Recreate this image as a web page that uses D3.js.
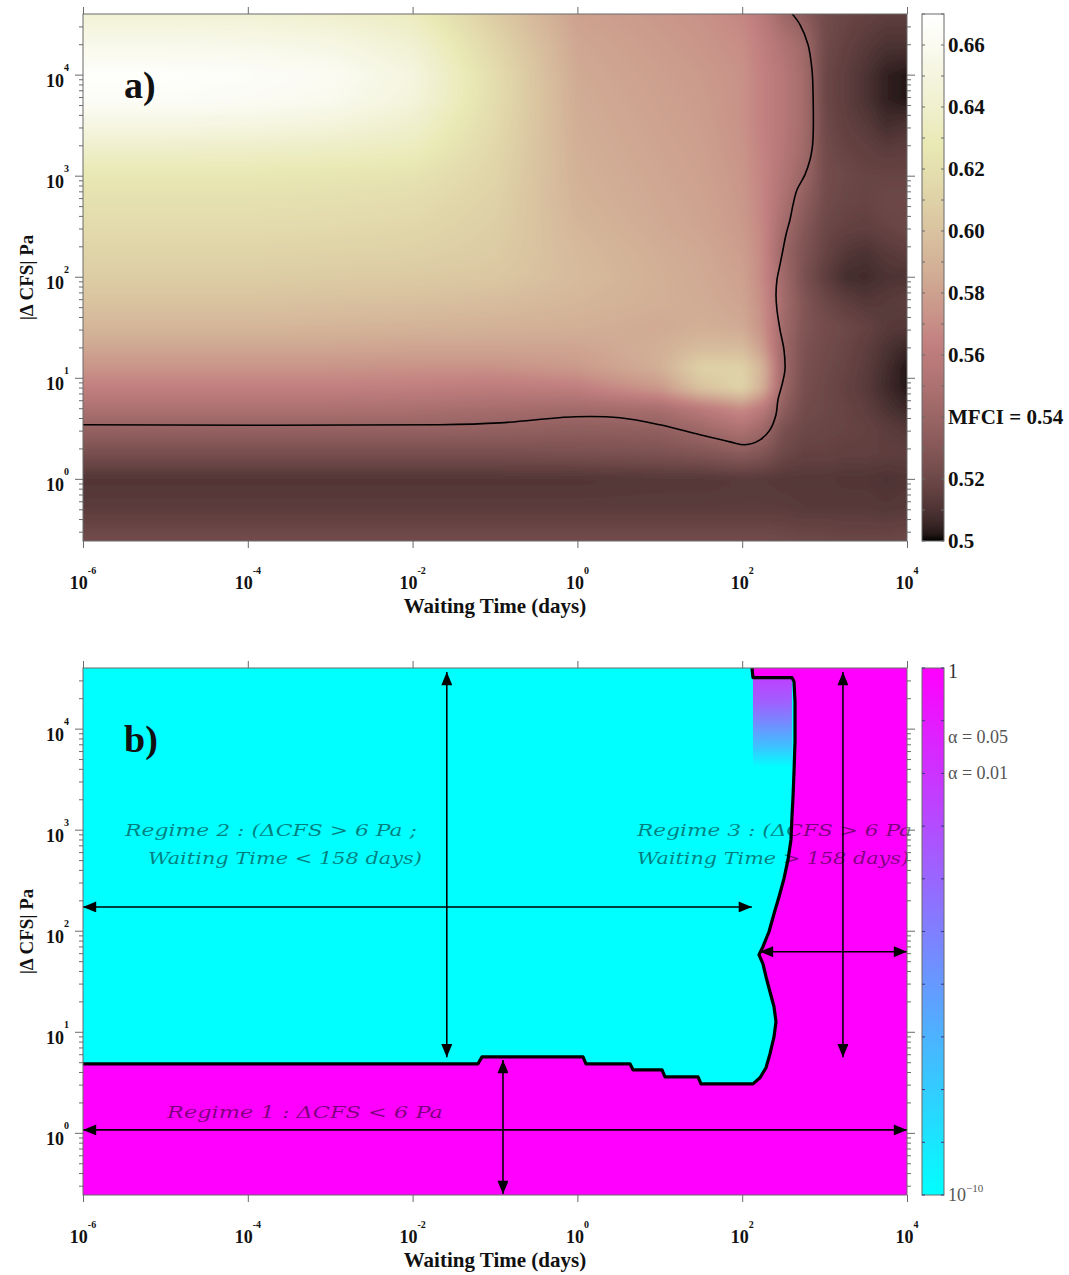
<!DOCTYPE html>
<html>
<head>
<meta charset="utf-8">
<title>MFCI versus waiting time and |ΔCFS|</title>
<script src="https://d3js.org/d3.v7.min.js"></script>
<style>
  html, body { margin: 0; padding: 0; background: #fff; }
  svg { display: block; }
</style>
</head>
<body>
<svg id="fig" width="1069" height="1275"></svg>
<script>
// ---------------------------------------------------------------------------
// Data
// ---------------------------------------------------------------------------

// Nodes of the MFCI surface: log10 waiting time (days) and log10 |ΔCFS| (Pa)
const gridTimeExp = [-6, -5, -4, -3, -2, -1, 0, 1, 1.5, 2, 2.25, 2.5, 2.75, 3, 3.25, 3.5, 3.75, 4];
const gridCfsExp = [-0.6, -0.3, 0, 0.25, 0.5, 0.7, 0.9, 1.1, 1.3, 1.5, 1.75, 2, 2.25, 2.5, 2.75, 3, 3.25, 3.5, 3.75, 4, 4.3, 4.6];

// MFCI values, one row per gridCfsExp entry (lowest stress first)
const mfciRows = [
  [.522,.522,.522,.522,.522,.522,.522,.522,.522,.522,.522,.521,.520,.520,.519,.519,.519,.520],
  [.514,.514,.514,.514,.514,.514,.514,.514,.514,.514,.514,.514,.513,.513,.513,.513,.512,.513],
  [.511,.511,.511,.511,.511,.511,.511,.512,.512,.513,.513,.512,.512,.512,.511,.511,.510,.511],
  [.524,.524,.524,.524,.524,.524,.525,.526,.528,.532,.528,.520,.517,.517,.516,.516,.515,.515],
  [.538,.538,.538,.538,.538,.537,.535,.536,.543,.552,.543,.525,.520,.519,.518,.517,.514,.512],
  [.550,.550,.550,.550,.549,.547,.545,.548,.558,.570,.558,.534,.522,.520,.518,.515,.510,.506],
  [.563,.563,.563,.563,.562,.560,.562,.576,.600,.612,.588,.540,.524,.520,.517,.513,.507,.502],
  [.573,.573,.573,.573,.572,.572,.576,.588,.610,.610,.590,.542,.525,.521,.518,.514,.508,.502],
  [.583,.583,.583,.583,.582,.582,.582,.588,.595,.595,.578,.541,.526,.522,.519,.515,.510,.506],
  [.592,.592,.592,.591,.590,.589,.588,.585,.588,.585,.572,.543,.528,.523,.520,.517,.513,.512],
  [.600,.600,.600,.599,.598,.596,.592,.588,.586,.582,.570,.545,.528,.520,.515,.512,.513,.515],
  [.607,.607,.607,.606,.605,.603,.595,.588,.585,.580,.568,.543,.525,.515,.508,.507,.510,.510],
  [.612,.612,.612,.611,.610,.606,.594,.587,.584,.578,.568,.540,.527,.518,.512,.510,.513,.515],
  [.617,.617,.617,.616,.614,.608,.592,.585,.582,.576,.567,.545,.530,.520,.517,.516,.518,.520],
  [.621,.621,.621,.620,.618,.610,.590,.584,.581,.575,.566,.550,.535,.522,.519,.518,.520,.520],
  [.626,.626,.626,.625,.623,.612,.589,.583,.580,.574,.566,.553,.540,.523,.520,.518,.518,.518],
  [.638,.638,.637,.635,.632,.614,.588,.582,.579,.573,.565,.555,.544,.522,.518,.516,.514,.515],
  [.652,.652,.651,.648,.640,.616,.587,.581,.578,.572,.564,.556,.545,.521,.516,.513,.508,.510],
  [.665,.665,.663,.659,.648,.618,.586,.580,.577,.572,.564,.556,.545,.520,.515,.510,.504,.502],
  [.668,.668,.666,.662,.650,.618,.585,.579,.576,.572,.564,.556,.545,.520,.515,.510,.504,.502],
  [.657,.657,.656,.653,.643,.613,.583,.577,.574,.570,.562,.552,.543,.521,.517,.513,.510,.510],
  [.645,.645,.644,.641,.633,.606,.580,.575,.572,.567,.558,.542,.532,.522,.519,.517,.515,.515]
];

// MFCI = 0.54 iso-line (log10 days, log10 Pa)
const isoTimeExp = [-6, -1.667, -0.939, -0.029, 0.517, 1.002, 1.488, 1.852, 2.034, 2.216, 2.337, 2.410, 2.434,
  2.483, 2.519, 2.507, 2.459, 2.422, 2.410, 2.422, 2.459, 2.495, 2.531, 2.580, 2.617, 2.665, 2.762, 2.823,
  2.847, 2.859, 2.859, 2.847, 2.799, 2.701, 2.604];
const isoCfsExp = [0.535, 0.535, 0.554, 0.614, 0.604, 0.535, 0.436, 0.366, 0.337, 0.386, 0.485, 0.634, 0.782,
  0.931, 1.079, 1.277, 1.475, 1.673, 1.822, 1.970, 2.119, 2.267, 2.416, 2.564, 2.713, 2.861, 3.010, 3.158,
  3.257, 3.356, 3.851, 4.050, 4.297, 4.495, 4.604];

// Boundary of the significant region (p = α), log10 days / log10 Pa
const edgeTimeExp = [-6, -1.206, -1.158, 0.068, 0.104, 0.638, 0.675, 1.027, 1.063, 1.464, 1.500, 2.131,
  2.216, 2.289, 2.337, 2.386, 2.410, 2.386, 2.337, 2.289, 2.252, 2.204, 2.252, 2.325, 2.386, 2.447, 2.507,
  2.556, 2.592, 2.604, 2.617, 2.629, 2.641, 2.641, 2.629, 2.604, 2.131, 2.119];
const edgeCfsExp = [0.683, 0.683, 0.752, 0.752, 0.683, 0.683, 0.624, 0.624, 0.554, 0.554, 0.485, 0.485,
  0.545, 0.644, 0.782, 0.950, 1.099, 1.248, 1.396, 1.545, 1.673, 1.762, 1.842, 1.990, 2.168, 2.337, 2.515,
  2.703, 2.901, 3.129, 3.327, 3.574, 3.871, 4.267, 4.465, 4.505, 4.505, 4.6];

// p-values: inside / outside the region, and the graded strip under its top edge
const pInside = 1e-10;
const pOutside = 1;
const stripTimeExp = [2.131, 2.604];
const stripCfsExp = [4.505, 4.27, 4.07, 3.82, 3.62];
const stripLogP = [-2.5, -3.7, -5.3, -7.6, -10];

// Double-headed arrows (days, Pa)
const arrowTime0 = [0.026, 1e-6, 0.125, 1e-6, 1670, 164];
const arrowCfs0 = [36300, 172, 5.25, 1.07, 36300, 62];
const arrowTime1 = [0.026, 131, 0.125, 1e4, 1670, 1e4];
const arrowCfs1 = [5.6, 172, 0.248, 1.07, 5.6, 62];

// Regime annotations
const regimeLines = [
  "Regime 2 : (ΔCFS  >  6 Pa ;",
  "Waiting Time  <  158 days)",
  "Regime 3 : (ΔCFS  >  6 Pa",
  "Waiting Time  >  158 days)",
  "Regime 1 :  ΔCFS  <  6 Pa"
];

// Axis ticks
const xTickExps = [-6, -4, -2, 0, 2, 4];
const yTickExps = [0, 1, 2, 3, 4];
const mfciTickValues = [0.5, 0.52, 0.54, 0.56, 0.58, 0.60, 0.62, 0.64, 0.66];
const mfciTickText = ["0.5", "0.52", "MFCI = 0.54", "0.56", "0.58", "0.60", "0.62", "0.64", "0.66"];
const pTickValues = [1, 0.05, 0.01, 1e-10];

// ---------------------------------------------------------------------------
// Layout and scales
// ---------------------------------------------------------------------------
const svg = d3.select("#fig");
const defs = svg.append("defs");
const PL = 83, PR = 907, PH = 527;
const TOP_A = 14, TOP_B = 668;
const CB_X = 922, CB_W = 22;
const AXIS_GRAY = "#6a6a6a";
const SERIF = "'Liberation Serif', 'Times New Roman', serif";
const MATH = "'DejaVu Serif', 'Liberation Serif', serif";

const x = d3.scaleLog().domain([1e-6, 1e4]).range([PL, PR]);
const cfsDomain = [Math.pow(10, -0.615), Math.pow(10, 4.6)];
const yA = d3.scaleLog().domain(cfsDomain).range([TOP_A + PH, TOP_A]);
const yB = d3.scaleLog().domain(cfsDomain).range([TOP_B + PH, TOP_B]);
const ex = e => x(Math.pow(10, e));

// MATLAB-style "pink" colour map, returns [r, g, b] in 0..255
function pinkRGB(t) {
  t = Math.max(0, Math.min(1, t));
  const hr = Math.min(1, t / 0.375);
  const hg = Math.max(0, Math.min(1, (t - 0.375) / 0.375));
  const hb = Math.max(0, Math.min(1, (t - 0.75) / 0.25));
  const f = h => Math.round(255 * Math.sqrt((2 * t + h) / 3));
  return [f(hr), f(hg), f(hb)];
}
const pinkHex = t => d3.rgb(...pinkRGB(t)).formatHex();
const mfciScale = d3.scaleLinear().domain([0.5, 0.67]).range([0, 1]).clamp(true);

// "cool" colour map over log10 p in [-10, 0]
const pScale = d3.scaleLinear().domain([-10, 0]).range([0, 1]).clamp(true);
const coolColor = lp => { const t = pScale(lp); return d3.rgb(255 * t, 255 * (1 - t), 255).formatHex(); };

// ---------------------------------------------------------------------------
// Panel a: MFCI surface (interpolated shading between grid nodes)
// ---------------------------------------------------------------------------
defs.append("clipPath").attr("id", "clipA").append("rect")
  .attr("x", PL).attr("y", TOP_A).attr("width", PR - PL).attr("height", PH);
defs.append("clipPath").attr("id", "clipB").append("rect")
  .attr("x", PL).attr("y", TOP_B).attr("width", PR - PL).attr("height", PH);

const soft = defs.append("filter").attr("id", "soft")
  .attr("filterUnits", "userSpaceOnUse")
  .attr("x", 0).attr("y", -40).attr("width", 1000).attr("height", 640);
soft.append("feGaussianBlur").attr("stdDeviation", 3);

// locate a coordinate inside a node list: index of lower node and fraction
function locate(nodes, v) {
  if (v <= nodes[0]) return [0, 0];
  if (v >= nodes[nodes.length - 1]) return [nodes.length - 2, 1];
  const i = Math.max(0, d3.bisectRight(nodes, v) - 1);
  return [i, (v - nodes[i]) / (nodes[i + 1] - nodes[i])];
}
const MARGIN = 20;
const cw = PR - PL + 2 * MARGIN, chh = PH + 2 * MARGIN;
const canvas = document.createElement("canvas");
canvas.width = cw; canvas.height = chh;
const ctx = canvas.getContext("2d");
const img = ctx.createImageData(cw, chh);
const colLoc = d3.range(cw).map(c => locate(gridTimeExp, Math.log10(x.invert(PL - MARGIN + c + 0.5))));
for (let r = 0; r < chh; r++) {
  const [j, fy] = locate(gridCfsExp, Math.log10(yA.invert(TOP_A - MARGIN + r + 0.5)));
  const lo = mfciRows[j], hi = mfciRows[j + 1];
  for (let c = 0; c < cw; c++) {
    const [i, fx] = colLoc[c];
    const v = (1 - fy) * ((1 - fx) * lo[i] + fx * lo[i + 1]) + fy * ((1 - fx) * hi[i] + fx * hi[i + 1]);
    const rgb = pinkRGB(mfciScale(v));
    const k = 4 * (r * cw + c);
    img.data[k] = rgb[0]; img.data[k + 1] = rgb[1]; img.data[k + 2] = rgb[2]; img.data[k + 3] = 255;
  }
}
ctx.putImageData(img, 0, 0);

const heatClip = svg.append("g").attr("clip-path", "url(#clipA)");
heatClip.append("image")
  .attr("href", canvas.toDataURL())
  .attr("x", PL - MARGIN).attr("y", TOP_A - MARGIN)
  .attr("width", cw).attr("height", chh)
  .attr("preserveAspectRatio", "none")
  .attr("filter", "url(#soft)");

const isoLine = d3.line()
  .x(d => ex(d[0])).y(d => yA(Math.pow(10, d[1])))
  .curve(d3.curveCatmullRom.alpha(0.5));
heatClip.append("path")
  .attr("d", isoLine(d3.zip(isoTimeExp, isoCfsExp)))
  .attr("fill", "none").attr("stroke", "#000").attr("stroke-width", 1.6);

// ---------------------------------------------------------------------------
// Panel b: significance map
// ---------------------------------------------------------------------------
const sigClip = svg.append("g").attr("clip-path", "url(#clipB)");
sigClip.append("rect")
  .attr("x", PL).attr("y", TOP_B).attr("width", PR - PL).attr("height", PH)
  .attr("fill", coolColor(Math.log10(pOutside)));

const edgePts = d3.zip(edgeTimeExp, edgeCfsExp);
const edgeLine = d3.line().x(d => ex(d[0])).y(d => yB(Math.pow(10, d[1])));
sigClip.append("path")
  .attr("d", edgeLine(edgePts.concat([[-6, 4.6]])) + "Z")
  .attr("fill", coolColor(Math.log10(pInside)));

// graded strip
const stripTop = yB(Math.pow(10, stripCfsExp[0]));
const stripBot = yB(Math.pow(10, stripCfsExp[stripCfsExp.length - 1]));
const stripGrad = defs.append("linearGradient").attr("id", "stripGrad")
  .attr("x1", 0).attr("y1", 0).attr("x2", 0).attr("y2", 1);
stripCfsExp.forEach((s, k) => {
  stripGrad.append("stop")
    .attr("offset", (yB(Math.pow(10, s)) - stripTop) / (stripBot - stripTop))
    .attr("stop-color", coolColor(stripLogP[k]));
});
sigClip.append("rect")
  .attr("x", ex(stripTimeExp[0])).attr("y", stripTop)
  .attr("width", ex(stripTimeExp[1]) - ex(stripTimeExp[0]))
  .attr("height", stripBot - stripTop)
  .attr("fill", "url(#stripGrad)");

// regime annotations
const regimeLayout = [
  { x: 125, y: 836, w: 292 },
  { x: 148, y: 864, w: 274 },
  { x: 637, y: 836, w: 275 },
  { x: 637, y: 864, w: 272 },
  { x: 167, y: 1118, w: 276 }
];
svg.append("g").selectAll("text").data(regimeLines).join("text")
  .attr("x", (d, i) => regimeLayout[i].x)
  .attr("y", (d, i) => regimeLayout[i].y)
  .attr("textLength", (d, i) => regimeLayout[i].w)
  .attr("lengthAdjust", "spacingAndGlyphs")
  .attr("font-family", MATH).attr("font-style", "italic").attr("font-size", 16)
  .attr("fill", "#000").attr("fill-opacity", 0.5)
  .text(d => d);

sigClip.append("path")
  .attr("d", edgeLine(edgePts))
  .attr("fill", "none").attr("stroke", "#000").attr("stroke-width", 3.2)
  .attr("stroke-linejoin", "round");

// arrows
defs.append("marker").attr("id", "tip")
  .attr("viewBox", "0 0 12 10").attr("refX", 12).attr("refY", 5)
  .attr("markerWidth", 14).attr("markerHeight", 11)
  .attr("markerUnits", "userSpaceOnUse")
  .attr("orient", "auto-start-reverse")
  .append("path").attr("d", "M0,0L12,5L0,10Z").attr("fill", "#000");

svg.append("g").selectAll("line").data(d3.range(arrowTime0.length)).join("line")
  .attr("x1", i => x(arrowTime0[i])).attr("y1", i => yB(arrowCfs0[i]))
  .attr("x2", i => x(arrowTime1[i])).attr("y2", i => yB(arrowCfs1[i]))
  .attr("stroke", "#000").attr("stroke-width", 1.6)
  .attr("marker-start", "url(#tip)").attr("marker-end", "url(#tip)");

// ---------------------------------------------------------------------------
// Axes
// ---------------------------------------------------------------------------
function powerLabel(g, xPos, yPos, anchor, exp, size, supSize, rise) {
  const t = g.append("text")
    .attr("x", xPos).attr("y", yPos).attr("text-anchor", anchor)
    .attr("font-family", SERIF).attr("font-weight", "bold").attr("font-size", size)
    .attr("fill", "#111");
  t.append("tspan").text("10");
  t.append("tspan").attr("dy", -rise).attr("font-size", supSize).text(exp);
  return t;
}

function drawFrame(y, top, letter) {
  const bottom = top + PH;
  const g = svg.append("g").attr("color", AXIS_GRAY);
  const xMaj = xTickExps.map(e => Math.pow(10, e));
  const yMaj = yTickExps.map(e => Math.pow(10, e));
  const yMin = [];
  for (let k = -1; k <= 4; k++) {
    for (let m = 2; m <= 9; m++) {
      const v = m * Math.pow(10, k);
      if (v >= cfsDomain[0] && v <= cfsDomain[1]) yMin.push(v);
    }
  }
  g.append("g").attr("transform", `translate(0,${bottom})`)
    .call(d3.axisBottom(x).tickValues(xMaj).tickSize(7).tickSizeOuter(0).tickFormat(""));
  g.append("g").attr("transform", `translate(0,${top})`)
    .call(d3.axisTop(x).tickValues(xMaj).tickSize(7).tickSizeOuter(0).tickFormat(""));
  g.append("g").attr("transform", `translate(${PL},0)`)
    .call(d3.axisLeft(y).tickValues(yMaj).tickSize(8).tickSizeOuter(0).tickFormat(""));
  g.append("g").attr("transform", `translate(${PL},0)`)
    .call(d3.axisLeft(y).tickValues(yMin).tickSize(4).tickSizeOuter(0).tickFormat(""));
  g.append("g").attr("transform", `translate(${PR},0)`)
    .call(d3.axisRight(y).tickValues(yMaj).tickSize(8).tickSizeOuter(0).tickFormat(""));
  g.append("g").attr("transform", `translate(${PR},0)`)
    .call(d3.axisRight(y).tickValues(yMin).tickSize(4).tickSizeOuter(0).tickFormat(""));
  g.selectAll(".domain").remove();
  g.selectAll(".tick text").remove();
  g.append("rect").attr("x", PL).attr("y", top).attr("width", PR - PL).attr("height", PH)
    .attr("fill", "none").attr("stroke", AXIS_GRAY).attr("stroke-width", 1);

  const labels = svg.append("g");
  xTickExps.forEach(e => powerLabel(labels, x(Math.pow(10, e)), bottom + 48, "middle", e, 18, 10, 15));
  yTickExps.forEach(e => powerLabel(labels, 69, y(Math.pow(10, e)) + 12, "end", e, 18, 10, 16));

  labels.append("text")
    .attr("x", (PL + PR) / 2).attr("y", bottom + 72).attr("text-anchor", "middle")
    .attr("font-family", SERIF).attr("font-weight", "bold").attr("font-size", 21)
    .attr("fill", "#111").text("Waiting Time (days)");
  labels.append("text")
    .attr("transform", `translate(33,${top + PH / 2}) rotate(-90)`)
    .attr("text-anchor", "middle")
    .attr("font-family", SERIF).attr("font-weight", "bold").attr("font-size", 19)
    .attr("fill", "#111").text("|Δ CFS| Pa");
  labels.append("text")
    .attr("x", 124).attr("y", top + 84)
    .attr("font-family", SERIF).attr("font-weight", "bold").attr("font-size", 38)
    .attr("fill", "#111").text(letter);
}
drawFrame(yA, TOP_A, "a)");
drawFrame(yB, TOP_B, "b)");

// ---------------------------------------------------------------------------
// Colour bars
// ---------------------------------------------------------------------------
// a) MFCI
const cbA = d3.scaleLinear().domain([0.5, 0.67]).range([TOP_A + PH, TOP_A]);
const gradA = defs.append("linearGradient").attr("id", "gradA")
  .attr("x1", 0).attr("y1", 1).attr("x2", 0).attr("y2", 0);
d3.range(0, 1.0001, 1 / 80).forEach(t => gradA.append("stop").attr("offset", t).attr("stop-color", pinkHex(t)));
svg.append("rect").attr("x", CB_X).attr("y", TOP_A).attr("width", CB_W).attr("height", PH)
  .attr("fill", "url(#gradA)").attr("stroke", AXIS_GRAY).attr("stroke-width", 1);
const cbTicksA = svg.append("g").attr("stroke", AXIS_GRAY);
d3.range(0.5, 0.6701, 0.01).forEach(v => {
  cbTicksA.append("line").attr("x1", CB_X).attr("x2", CB_X + 3).attr("y1", cbA(v)).attr("y2", cbA(v));
  cbTicksA.append("line").attr("x1", CB_X + CB_W - 3).attr("x2", CB_X + CB_W).attr("y1", cbA(v)).attr("y2", cbA(v));
});
svg.append("g").selectAll("text").data(mfciTickValues).join("text")
  .attr("x", CB_X + CB_W + 4).attr("y", v => cbA(v) + 7)
  .attr("font-family", SERIF).attr("font-weight", "bold").attr("font-size", 21)
  .attr("fill", "#111")
  .text((v, i) => mfciTickText[i]);

// b) p-value
const cbB = d3.scaleLog().domain([1e-10, 1]).range([TOP_B + PH, TOP_B]);
const gradB = defs.append("linearGradient").attr("id", "gradB")
  .attr("x1", 0).attr("y1", 1).attr("x2", 0).attr("y2", 0);
gradB.append("stop").attr("offset", 0).attr("stop-color", coolColor(-10));
gradB.append("stop").attr("offset", 1).attr("stop-color", coolColor(0));
svg.append("rect").attr("x", CB_X).attr("y", TOP_B).attr("width", CB_W).attr("height", PH)
  .attr("fill", "url(#gradB)").attr("stroke", AXIS_GRAY).attr("stroke-width", 1);
const cbTicksB = svg.append("g").attr("stroke", "#3a3a7a");
d3.range(-10, 0.5, 1).forEach(e => {
  const yy = cbB(Math.pow(10, e));
  cbTicksB.append("line").attr("x1", CB_X).attr("x2", CB_X + 3).attr("y1", yy).attr("y2", yy);
  cbTicksB.append("line").attr("x1", CB_X + CB_W - 3).attr("x2", CB_X + CB_W).attr("y1", yy).attr("y2", yy);
});
const cbLabB = svg.append("g").attr("font-family", SERIF).attr("font-size", 18).attr("fill", "#555");
cbLabB.append("text").attr("x", CB_X + CB_W + 4).attr("y", cbB(pTickValues[0]) + 10)
  .attr("fill", "#333").attr("font-size", 20).text("1");
cbLabB.append("text").attr("x", CB_X + CB_W + 4).attr("y", cbB(pTickValues[1]) + 6)
  .text("α = " + pTickValues[1].toFixed(2));
cbLabB.append("text").attr("x", CB_X + CB_W + 4).attr("y", cbB(pTickValues[2]) + 6)
  .text("α = " + pTickValues[2].toFixed(2));
const tenLab = cbLabB.append("text").attr("x", CB_X + CB_W + 4).attr("y", cbB(pTickValues[3]) + 6);
tenLab.append("tspan").text("10");
tenLab.append("tspan").attr("dy", -9).attr("font-size", 11).text("−" + Math.round(-Math.log10(pTickValues[3])));
</script>
</body>
</html>
